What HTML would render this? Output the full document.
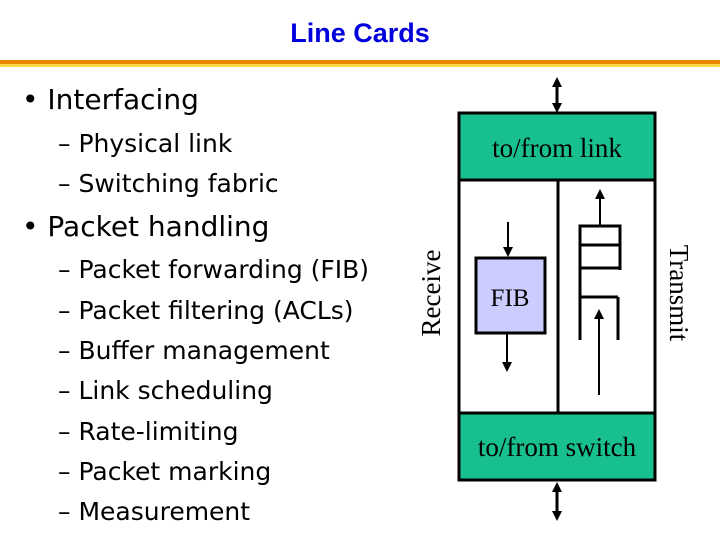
<!DOCTYPE html>
<html><head><style>
body{margin:0;width:720px;height:540px;background:#fff;position:relative;overflow:hidden;font-family:"DejaVu Sans","Liberation Sans",sans-serif}
.t{position:absolute;white-space:nowrap}
.b{font-size:28px;color:#000}
.s{font-size:25px;color:#000}
</style></head><body>
<div class="t" style="left:0;width:720px;text-align:center;top:18px;font-size:27px;font-weight:bold;color:#0000dd;font-family:'Liberation Sans',sans-serif">Line Cards</div>
<div style="position:absolute;left:0;top:60px;width:720px;height:4px;background:#e88a00"></div>
<div style="position:absolute;left:0;top:64px;width:720px;height:3px;background:#ffd84a"></div>
<div class="t b" style="left:22px;top:83px">• Interfacing</div>
<div class="t s" style="left:58px;top:129px">– Physical link</div>
<div class="t s" style="left:58px;top:169px">– Switching fabric</div>
<div class="t b" style="left:22px;top:210px">• Packet handling</div>
<div class="t s" style="left:58px;top:255px">– Packet forwarding (FIB)</div>
<div class="t s" style="left:58px;top:296px">– Packet filtering (ACLs)</div>
<div class="t s" style="left:58px;top:336px">– Buffer management</div>
<div class="t s" style="left:58px;top:376px">– Link scheduling</div>
<div class="t s" style="left:58px;top:417px">– Rate-limiting</div>
<div class="t s" style="left:58px;top:457px">– Packet marking</div>
<div class="t s" style="left:58px;top:497px">– Measurement</div>
<svg width="720" height="540" style="position:absolute;left:0;top:0" font-family="Liberation Serif,serif">
<defs><marker id="a" markerWidth="10" markerHeight="10" refX="3" refY="5" orient="auto-start-reverse" markerUnits="userSpaceOnUse"><path d="M0,0L10,5L0,10z"/></marker></defs>
<rect x="459" y="113" width="196" height="367" fill="#fff" stroke="#000" stroke-width="3"/>
<rect x="459" y="113" width="196" height="67" fill="#19c08f" stroke="#000" stroke-width="3"/>
<rect x="459" y="413" width="196" height="67" fill="#19c08f" stroke="#000" stroke-width="3"/>
<line x1="558" y1="180" x2="558" y2="413" stroke="#000" stroke-width="3"/>
<text x="557" y="157" font-size="27" text-anchor="middle">to/from link</text>
<text x="557" y="456" font-size="27" text-anchor="middle">to/from switch</text>
<rect x="476" y="258" width="69" height="75" fill="#ccccff" stroke="#000" stroke-width="3"/>
<text x="510" y="306" font-size="25" text-anchor="middle">FIB</text>
<line x1="508" y1="222" x2="508" y2="250" stroke="#000" stroke-width="2" marker-end="url(#a)"/>
<line x1="507" y1="333" x2="507" y2="365" stroke="#000" stroke-width="2" marker-end="url(#a)"/>
<path d="M580,340V226H620V270M580,245H620M580,268H620M580,297H618M618,297V340" fill="none" stroke="#000" stroke-width="3"/>
<line x1="600" y1="226" x2="600" y2="196" stroke="#000" stroke-width="2" marker-end="url(#a)"/>
<line x1="599" y1="395" x2="599" y2="316" stroke="#000" stroke-width="2" marker-end="url(#a)"/>
<line x1="557" y1="84" x2="557" y2="106" stroke="#000" stroke-width="3" marker-start="url(#a)" marker-end="url(#a)"/>
<line x1="557" y1="489" x2="557" y2="514" stroke="#000" stroke-width="3" marker-start="url(#a)" marker-end="url(#a)"/>
<text transform="translate(440,293) rotate(-90)" font-size="27" text-anchor="middle">Receive</text>
<text transform="translate(670,293) rotate(90)" font-size="27" text-anchor="middle">Transmit</text>
</svg>
</body></html>
